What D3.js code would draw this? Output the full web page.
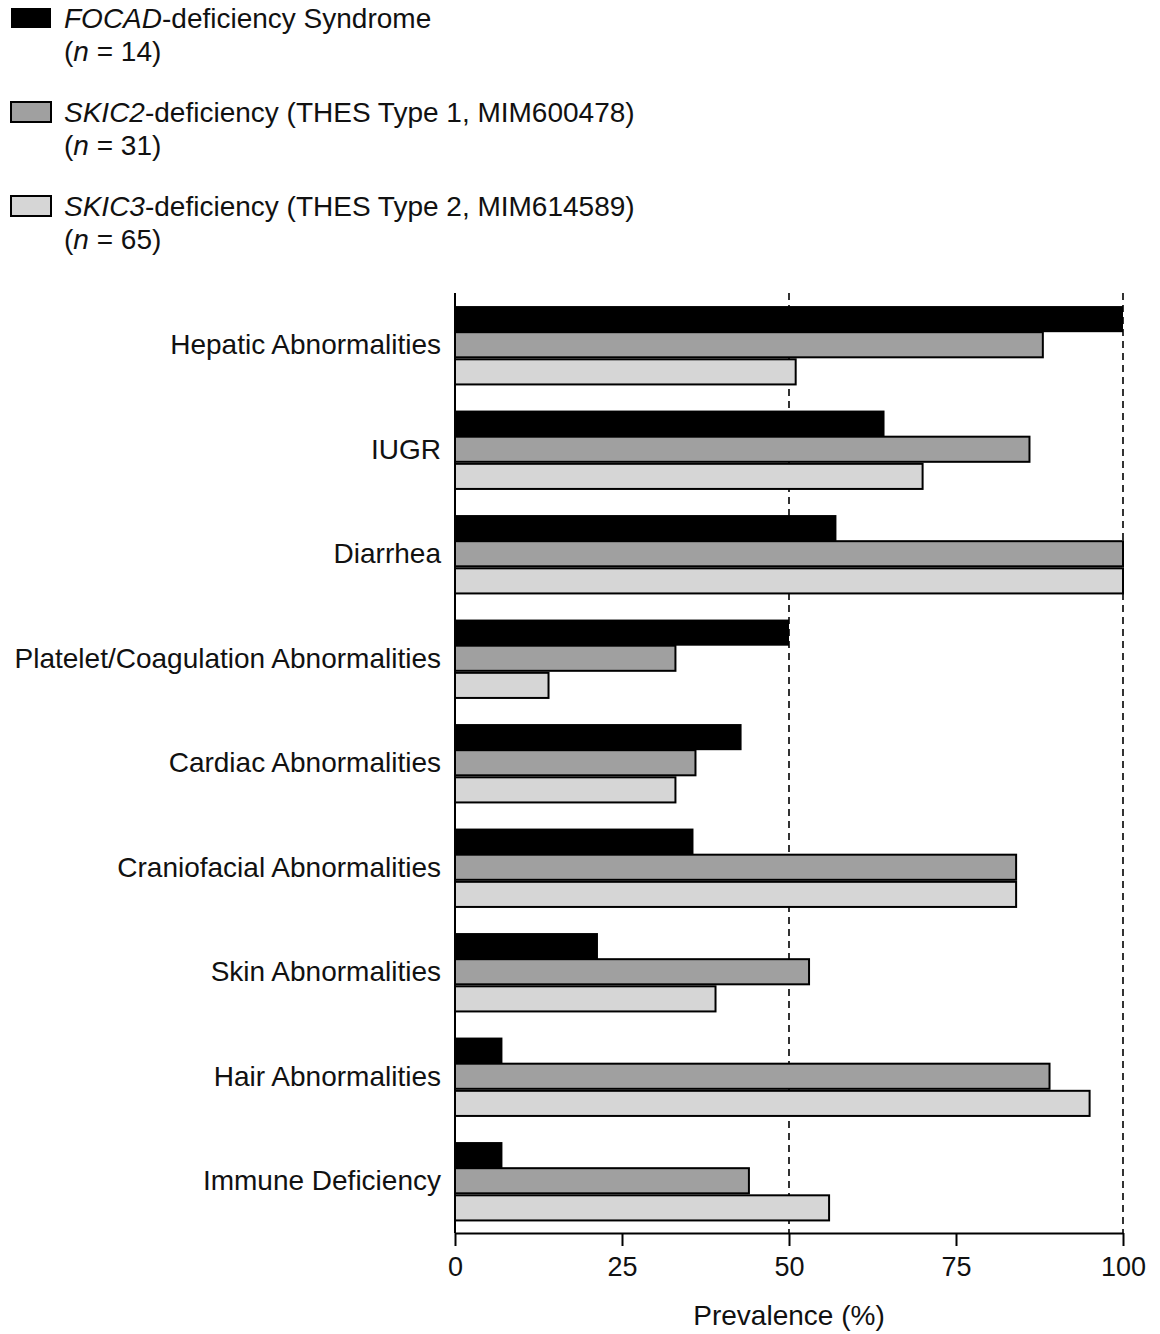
<!DOCTYPE html>
<html><head><meta charset="utf-8">
<script src="https://cdn.jsdelivr.net/npm/d3@7"></script>
<style>body{margin:0;background:#fff;} svg{display:block;font-family:"Liberation Sans",Arial,sans-serif;}</style>
</head><body>
<svg id="c" width="1160" height="1334"></svg>
<script>
const categories = ["Hepatic Abnormalities","IUGR","Diarrhea","Platelet/Coagulation Abnormalities","Cardiac Abnormalities","Craniofacial Abnormalities","Skin Abnormalities","Hair Abnormalities","Immune Deficiency"];
const seriesNames = ["FOCAD","SKIC2","SKIC3"];
const focad = [100, 64.3, 57.1, 50, 42.9, 35.7, 21.4, 7.1, 7.1];
const skic2 = [88, 86, 100, 33, 36, 84, 53, 89, 44];
const skic3 = [51, 70, 100, 14, 33, 84, 39, 95, 56];
const xTicks = [0, 25, 50, 75, 100];
const refLines = [50, 100];
const legendItems = [
  {italic:"FOCAD", rest:"-deficiency Syndrome", n:"14"},
  {italic:"SKIC2", rest:"-deficiency (THES Type 1, MIM600478)", n:"31"},
  {italic:"SKIC3", rest:"-deficiency (THES Type 2, MIM614589)", n:"65"}
];
const fills = ["#000000","#a0a0a0","#d6d6d6"];
const values = [focad, skic2, skic3];

const svg = d3.select("#c");
const x = d3.scaleLinear().domain([0,100]).range([455,1123]);
const y = d3.scaleBand().domain(categories).range([293,1233.5]).paddingInner(0.25).paddingOuter(0.125);
const ys = d3.scaleBand().domain(seriesNames).range([0, y.bandwidth()]);

// reference dashed lines
svg.selectAll("line.ref").data(refLines).join("line")
  .attr("x1",d=>x(d)).attr("x2",d=>x(d)).attr("y1",293).attr("y2",1233)
  .attr("stroke","#000").attr("stroke-width",1.6).attr("stroke-dasharray","7,5");

// bars
seriesNames.forEach((s,si)=>{
  svg.append("g").selectAll("rect").data(categories).join("rect")
    .attr("x", x(0))
    .attr("y", (c)=>y(c)+ys(s) + (si===2?1:0))
    .attr("width", (c,i)=>x(values[si][i])-x(0))
    .attr("height", ys.bandwidth()-(si===0?0:1))
    .attr("fill", fills[si])
    .attr("stroke", "#000").attr("stroke-width", si===0?0:2);
});

// y axis
const yAxis = svg.append("g").attr("transform","translate(455,0)")
  .call(d3.axisLeft(y).tickSize(0).tickPadding(14));
yAxis.select(".domain").attr("d","M0,293V1233").attr("stroke-width",2);
yAxis.selectAll("text").attr("font-size",28).attr("fill","#111").attr("font-family","Liberation Sans, Arial, sans-serif");

// x axis
const xAxis = svg.append("g").attr("transform","translate(0,1233)")
  .call(d3.axisBottom(x).tickValues(xTicks).tickSize(13).tickSizeOuter(0).tickPadding(11));
xAxis.select(".domain").attr("stroke-width",2);
xAxis.selectAll(".tick line").attr("stroke-width",2);
xAxis.selectAll("text").attr("font-size",27).attr("fill","#111").attr("font-family","Liberation Sans, Arial, sans-serif");

svg.append("text").attr("x",789).attr("y",1325).attr("text-anchor","middle")
  .attr("font-size",28).attr("fill","#111").text("Prevalence (%)");

// legend
const lg = svg.append("g");
legendItems.forEach((d,i)=>{
  const top = 8 + i*94;
  lg.append("rect").attr("x",11).attr("y",top).attr("width",40).attr("height",20)
    .attr("fill",fills[i]).attr("stroke","#000").attr("stroke-width",i===0?0:2);
  const t1 = lg.append("text").attr("x",64).attr("y",top+20).attr("font-size",28).attr("fill","#111");
  t1.append("tspan").attr("font-style","italic").text(d.italic);
  t1.append("tspan").text(d.rest);
  const t2 = lg.append("text").attr("x",64).attr("y",top+53).attr("font-size",28).attr("fill","#111");
  t2.append("tspan").text("(");
  t2.append("tspan").attr("font-style","italic").text("n");
  t2.append("tspan").text(" = " + d.n + ")");
});
</script>
</body></html>
